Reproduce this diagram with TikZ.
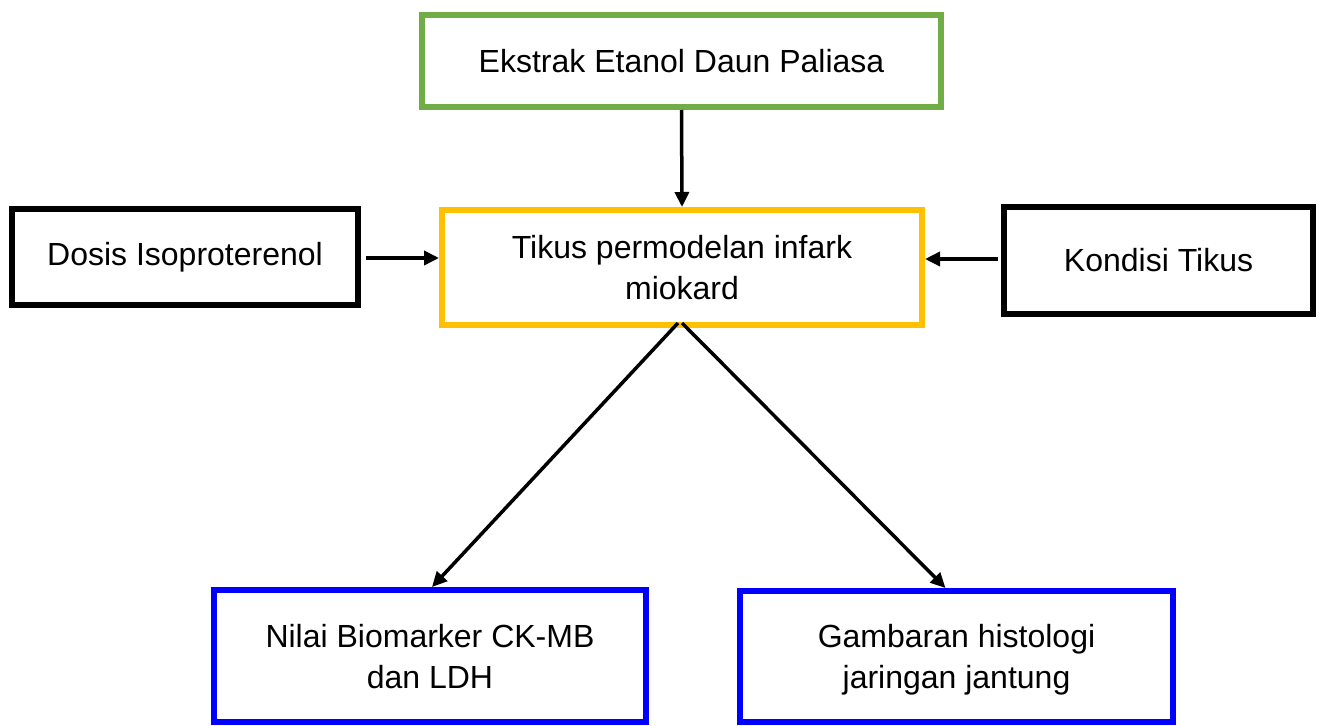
\documentclass[tikz,border=0pt]{standalone}
\usepackage{fontspec}
\setmainfont{Liberation Sans}
\usetikzlibrary{arrows.meta}
\definecolor{hijau}{HTML}{70AD47}
\definecolor{kuning}{HTML}{FFC000}
\definecolor{biru}{HTML}{0000FF}

\begin{document}
\begin{tikzpicture}[x=1pt, y=-1pt,
        kotak/.style={draw, line width=6pt, align=center, inner sep=0pt,
            font=\fontsize{32}{41}\selectfont},
        panah/.style={line width=3.5pt, -{Triangle[length=15pt,width=14pt]}}]
    \useasboundingbox (0,0) rectangle (1321,725);
    % kotak
    \node[kotak, draw=hijau, minimum width=519pt, minimum height=92pt] (ekstrak) at (681.5,61) {Ekstrak Etanol Daun Paliasa};
    \node[kotak, draw=kuning, minimum width=480pt, minimum height=115pt] (tikus) at (682,267.5) {Tikus permodelan infark\\miokard};
    \node[kotak, minimum width=346pt, minimum height=96pt] (dosis) at (185,257) {Dosis Isoproterenol};
    \node[kotak, minimum width=309pt, minimum height=107pt] (kondisi) at (1158.5,260.5) {Kondisi Tikus};
    \node[kotak, draw=biru, minimum width=432pt, minimum height=132pt, text depth=0pt] (nilai) at (430,656) {Nilai Biomarker CK-MB\\dan LDH};
    \node[kotak, draw=biru, minimum width=433pt, minimum height=131pt, text depth=0pt] (gambaran) at (956.5,656.5) {Gambaran histologi\\jaringan jantung};
    % panah
    \draw[panah] (ekstrak.south) -- (tikus.north);
    \draw[panah, shorten <=5pt] (dosis.east |- 0,258) -- (tikus.west |- 0,258);
    \draw[panah, shorten <=3pt] (kondisi.west |- 0,259) -- (tikus.east |- 0,259);
    \draw[panah] ([xshift=-4pt,yshift=5pt]tikus.south) -- ([xshift=2pt]nilai.north);
    \draw[panah] ([xshift=0pt,yshift=5pt]tikus.south) -- ([xshift=-11pt]gambaran.north);
\end{tikzpicture}
\end{document}
